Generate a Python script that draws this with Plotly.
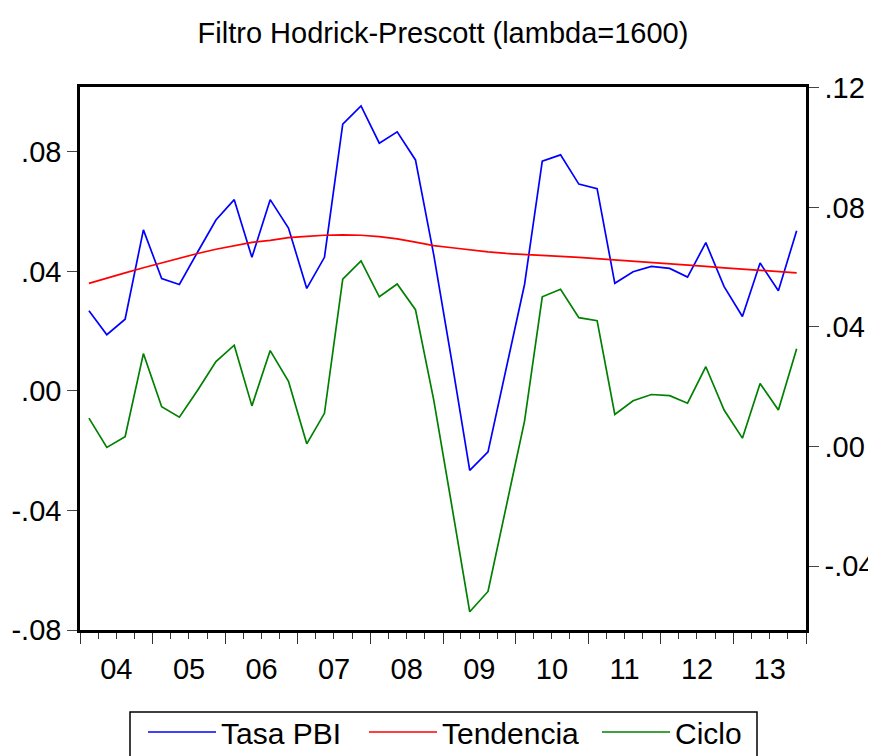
import plotly.graph_objects as go

# Quarterly periods 2004Q1 .. 2013Q4 (points plotted mid-quarter)
years = list(range(2004, 2014))
quarter_mid = ["02-15", "05-15", "08-15", "11-15"]
dates = [f"{y}-{m}" for y in years for m in quarter_mid]

tasa_pbi = [0.0454, 0.0374, 0.0426, 0.0725, 0.0562, 0.0542, 0.0651, 0.0758,
            0.0826, 0.0633, 0.0826, 0.0731, 0.0529, 0.0633, 0.1079, 0.1140,
            0.1015, 0.1053, 0.0959, 0.0641, 0.0281, -0.0080, -0.0018, 0.0263,
            0.0543, 0.0955, 0.0976, 0.0878, 0.0863, 0.0546, 0.0585, 0.0603,
            0.0596, 0.0567, 0.0682, 0.0535, 0.0435, 0.0614, 0.0521, 0.0722]

tendencia = [0.0546, 0.0564, 0.0581, 0.0598, 0.0615, 0.0630, 0.0646, 0.0660,
             0.0673, 0.0683, 0.0690, 0.0699, 0.0703, 0.0707, 0.0708, 0.0707,
             0.0702, 0.0695, 0.0684, 0.0672, 0.0665, 0.0657, 0.0651, 0.0646,
             0.0642, 0.0639, 0.0636, 0.0633, 0.0629, 0.0624, 0.0620, 0.0615,
             0.0611, 0.0608, 0.0603, 0.0598, 0.0594, 0.0591, 0.0586, 0.0581]

ciclo = [-0.0091, -0.0189, -0.0153, 0.0125, -0.0053, -0.0088, 0.0002, 0.0098,
         0.0153, -0.0050, 0.0135, 0.0032, -0.0177, -0.0075, 0.0374, 0.0435,
         0.0315, 0.0358, 0.0272, -0.0031, -0.0389, -0.0739, -0.0671, -0.0384,
         -0.0100, 0.0315, 0.0340, 0.0245, 0.0235, -0.0079, -0.0033, -0.0012,
         -0.0016, -0.0041, 0.0081, -0.0064, -0.0158, 0.0025, -0.0064, 0.0141]

left_ticks = [-0.08, -0.04, 0.0, 0.04, 0.08]
left_labels = ["-.08", "-.04", ".00", ".04", ".08"]
right_ticks = [-0.04, 0.0, 0.04, 0.08, 0.12]
right_labels = ["-.04", ".00", ".04", ".08", ".12"]

FONT = "Liberation Sans, Arial, sans-serif"

# Page has an 8px body offset; figure sized to end at window edge.
W, H = 868, 748
ML, MT, MR, MB = 72, 79, 70, 126
PW, PH = W - ML - MR, H - MT - MB

fig = go.Figure()
fig.add_trace(go.Scatter(x=dates, y=tasa_pbi, name="Tasa PBI", mode="lines",
                         line=dict(color="#0000FF", width=1.7), yaxis="y2",
                         legend="legend"))
fig.add_trace(go.Scatter(x=dates, y=tendencia, name="Tendencia", mode="lines",
                         line=dict(color="#FF0000", width=1.7), yaxis="y2",
                         legend="legend2"))
fig.add_trace(go.Scatter(x=dates, y=ciclo, name="Ciclo", mode="lines",
                         line=dict(color="#008000", width=1.7), yaxis="y",
                         legend="legend3"))

leg_common = dict(orientation="h", xanchor="left", xref="container",
                  yref="container", yanchor="top", y=1 - 698 / H,
                  borderwidth=0, font=dict(size=30), itemwidth=68,
                  bgcolor="rgba(0,0,0,0)")

fig.update_layout(
    width=W, height=H,
    margin=dict(l=ML, r=MR, t=MT, b=MB, autoexpand=False),
    paper_bgcolor="white", plot_bgcolor="white",
    font=dict(family=FONT, color="black", size=29),
    title=dict(text="Filtro Hodrick-Prescott (lambda=1600)", x=0.5, xref="paper",
               xanchor="center", y=1 - 25 / H, yanchor="middle",
               font=dict(size=29, family=FONT, color="black")),
    showlegend=True,
    legend=dict(x=135 / W, **leg_common),
    legend2=dict(x=356 / W, **leg_common),
    legend3=dict(x=589 / W, **leg_common),
    xaxis=dict(type="date", range=["2004-01-01", "2014-01-01"],
               dtick="M12", tick0="2004-01-01", tickformat="%y",
               ticklabelmode="period", ticks="outside", ticklen=11,
               tickcolor="#333", tickwidth=1, automargin=False,
               minor=dict(dtick="M3", tick0="2004-01-01", ticks="outside",
                          ticklen=6, tickcolor="#333", tickwidth=1, showgrid=False),
               showgrid=False, zeroline=False,
               showline=True, linecolor="black", linewidth=2.5, mirror=True,
               tickfont=dict(size=29)),
    yaxis=dict(range=[-0.08, 0.1017], tickvals=left_ticks, ticktext=left_labels,
               ticks="outside", ticklen=10, tickcolor="#444", tickwidth=1,
               showgrid=False, zeroline=False, automargin=False,
               showline=True, linecolor="black", linewidth=2.5,
               tickfont=dict(size=29)),
    yaxis2=dict(range=[-0.0614, 0.1203], tickvals=right_ticks, ticktext=right_labels,
                overlaying="y", side="right", automargin=False,
                ticks="outside", ticklen=10, tickcolor="#444", tickwidth=1,
                showgrid=False, zeroline=False,
                showline=True, linecolor="black", linewidth=2.5,
                tickfont=dict(size=29)),
    shapes=[dict(type="rect", xref="paper", yref="paper",
                 x0=(122 - ML) / PW, x1=(749 - ML) / PW,
                 y0=-(790 - MT - PH) / PH, y1=-(704 - MT - PH) / PH,
                 line=dict(color="black", width=1.5), fillcolor="rgba(0,0,0,0)",
                 layer="above")],
)

fig.write_html("out.html")
